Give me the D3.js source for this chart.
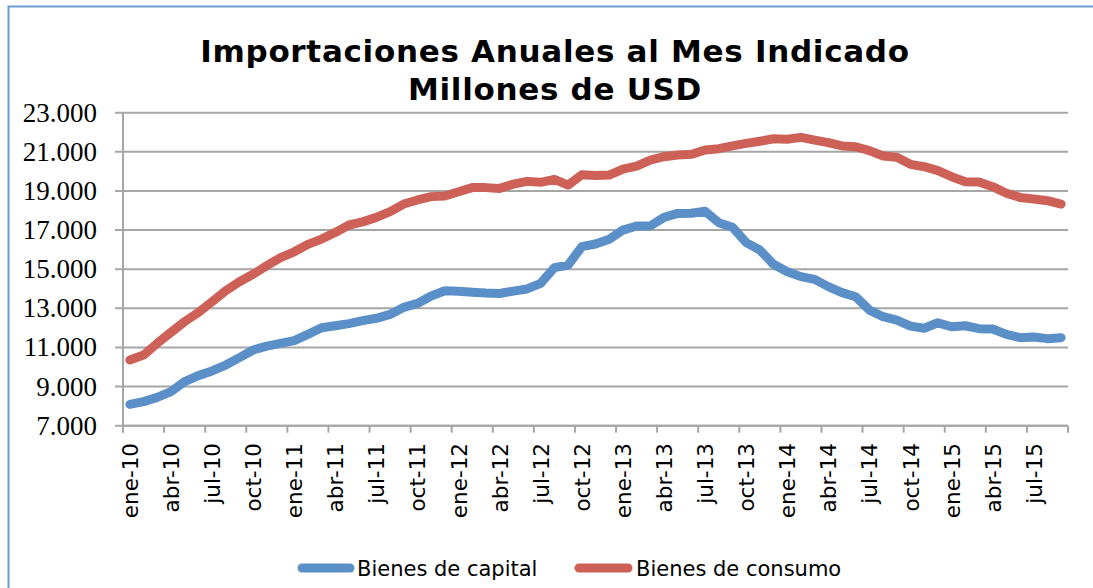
<!DOCTYPE html>
<html>
<head>
<meta charset="utf-8">
<script src="https://cdnjs.cloudflare.com/ajax/libs/d3/7.8.5/d3.min.js"></script>
<style>
  body { margin: 0; background: #fff; }
  svg { display: block; }
</style>
</head>
<body>
<svg id="chart" width="1093" height="588"></svg>
<script>
// Monthly categories, ene-10 .. sep-15
const monthNames = ["ene", "feb", "mar", "abr", "may", "jun", "jul", "ago", "sep", "oct", "nov", "dic"];
const months = [];
for (let yr = 10; yr <= 15; yr++) {
  for (let m = 0; m < 12; m++) {
    if (yr === 15 && m > 8) break;
    months.push(monthNames[m] + "-" + yr);
  }
}

// Bienes de capital (millones USD)
const capital = [
  8090, 8230, 8450, 8740, 9250, 9560, 9800, 10100, 10480, 10870, 11070, 11210,
  11350, 11670, 12010, 12110, 12220, 12370, 12490, 12690, 13050, 13250, 13630, 13900,
  13870, 13820, 13780, 13760, 13880, 13990, 14280, 15080, 15210, 16150, 16290, 16530,
  17000, 17210, 17210, 17650, 17850, 17860, 17960, 17380, 17140, 16360, 15980, 15250,
  14870, 14620, 14480, 14110, 13800, 13590, 12910, 12570, 12400, 12090, 11980, 12260,
  12060, 12110, 11960, 11940, 11670, 11500, 11530, 11450, 11500
];

// Bienes de consumo (millones USD)
const consumo = [
  10360, 10610, 11210, 11770, 12320, 12790, 13340, 13900, 14360, 14740, 15180, 15590,
  15890, 16270, 16540, 16880, 17260, 17420, 17650, 17940, 18330, 18540, 18710, 18740,
  18960, 19170, 19170, 19130, 19350, 19490, 19440, 19590, 19300, 19830, 19790, 19810,
  20120, 20270, 20580, 20750, 20840, 20870, 21090, 21160, 21300, 21430, 21540, 21670,
  21640, 21740, 21600, 21470, 21300, 21260, 21060, 20790, 20720, 20360, 20240, 20040,
  19730, 19470, 19460, 19220, 18880, 18670, 18590, 18500, 18330
];

const yTicks = [7000, 9000, 11000, 13000, 15000, 17000, 19000, 21000, 23000];
const seriesNames = ["Bienes de capital", "Bienes de consumo"];
const colors = ["#5b8fc8", "#cd6158"];

const svg = d3.select("#chart");
const plotLeft = 123, plotRight = 1068, plotTop = 112.7, plotBottom = 425.7;

// outer frame
svg.append("rect")
  .attr("x", 8.5).attr("y", 6.5).attr("width", 1100).attr("height", 600)
  .attr("fill", "none").attr("stroke", "#6a9bd3").attr("stroke-width", 2);

// title
const title = svg.append("text")
  .attr("x", 555).attr("text-anchor", "middle")
  .attr("font-family", "DejaVu Sans").attr("font-weight", "bold")
  .attr("font-size", 31).attr("letter-spacing", 0.7).attr("fill", "#000");
title.append("tspan").attr("x", 555).attr("y", 62).text("Importaciones Anuales al Mes Indicado");
title.append("tspan").attr("x", 555).attr("y", 100).text("Millones de USD");

const x = d3.scaleBand().domain(months).range([plotLeft, plotRight]);
const y = d3.scaleLinear().domain([7000, 23000]).range([plotBottom, plotTop]);

// gridlines
svg.append("g").selectAll("line").data(yTicks).join("line")
  .attr("x1", plotLeft - 8).attr("x2", plotRight)
  .attr("y1", d => y(d)).attr("y2", d => y(d))
  .attr("stroke", "#a6a6a6").attr("stroke-width", 2);

// y axis line
svg.append("line")
  .attr("x1", plotLeft).attr("x2", plotLeft).attr("y1", plotTop).attr("y2", plotBottom)
  .attr("stroke", "#a6a6a6").attr("stroke-width", 2);

// y labels
const fmt = d => d3.format(",")(d).replace(/,/g, ".");
svg.append("g").selectAll("text").data(yTicks).join("text")
  .attr("x", 97).attr("y", d => y(d) + 9)
  .attr("text-anchor", "end")
  .attr("font-family", "Liberation Serif").attr("font-size", 27)
  .attr("fill", "#000")
  .text(fmt);

// x axis line and ticks between categories
svg.append("line")
  .attr("x1", plotLeft).attr("x2", plotRight).attr("y1", plotBottom).attr("y2", plotBottom)
  .attr("stroke", "#a6a6a6").attr("stroke-width", 2);

const tickMonths = months.filter((d, i) => i % 3 === 0);
const tickXs = tickMonths.map(d => x(d)).concat([plotRight]);
svg.append("g").selectAll("line").data(tickXs).join("line")
  .attr("x1", d => d).attr("x2", d => d)
  .attr("y1", plotBottom).attr("y2", plotBottom + 7)
  .attr("stroke", "#a6a6a6").attr("stroke-width", 2);

svg.append("g").selectAll("text").data(tickMonths).join("text")
  .attr("transform", d => `translate(${x(d) + x.bandwidth() / 2 + 8},443) rotate(-90)`)
  .attr("text-anchor", "end")
  .attr("font-family", "DejaVu Sans").attr("font-size", 21.5)
  .attr("fill", "#000")
  .text(d => d);

// lines
const line = d3.line()
  .x((d, i) => x(months[i]) + x.bandwidth() / 2)
  .y(d => y(d));

[capital, consumo].forEach((s, k) => {
  svg.append("path")
    .datum(s)
    .attr("d", line)
    .attr("fill", "none")
    .attr("stroke", colors[k])
    .attr("stroke-width", 9)
    .attr("stroke-linejoin", "round")
    .attr("stroke-linecap", "round");
});

// legend
const legendItems = [{ x1: 302, x2: 350, tx: 357 }, { x1: 579, x2: 628, tx: 636 }];
legendItems.forEach((p, k) => {
  svg.append("line")
    .attr("x1", p.x1).attr("x2", p.x2).attr("y1", 568).attr("y2", 568)
    .attr("stroke", colors[k]).attr("stroke-width", 9).attr("stroke-linecap", "round");
  svg.append("text")
    .attr("x", p.tx).attr("y", 576)
    .attr("font-family", "DejaVu Sans").attr("font-size", 21).attr("fill", "#000")
    .text(seriesNames[k]);
});
</script>
</body>
</html>
